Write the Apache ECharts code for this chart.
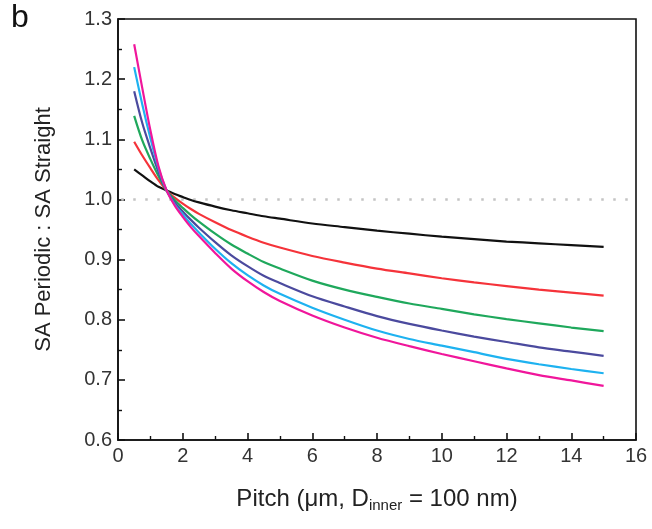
<!DOCTYPE html>
<html>
<head>
<meta charset="utf-8">
<script src="https://cdn.jsdelivr.net/npm/echarts@6/dist/echarts.min.js"></script>
<style>html,body{margin:0;padding:0;background:#fff}#c{width:652px;height:529px}</style>
</head>
<body>
<div id="c"></div>
<script>
const pitch = [0.5, 0.75, 1, 1.25, 1.5, 1.75, 2, 2.25, 2.5, 3, 3.5, 4, 4.5, 5, 6, 7, 8, 9, 10, 11, 12, 13, 14, 15];
const black = [1.050, 1.040, 1.030, 1.021, 1.015, 1.009, 1.004, 0.999, 0.995, 0.988, 0.982, 0.977, 0.972, 0.968, 0.960, 0.954, 0.948, 0.943, 0.938, 0.934, 0.930, 0.927, 0.924, 0.921];
const red = [1.096, 1.073, 1.052, 1.032, 1.015, 1.003, 0.993, 0.984, 0.976, 0.962, 0.949, 0.938, 0.928, 0.920, 0.906, 0.895, 0.885, 0.877, 0.869, 0.862, 0.856, 0.850, 0.845, 0.840];
const green = [1.139, 1.098, 1.067, 1.039, 1.015, 0.999, 0.986, 0.974, 0.963, 0.943, 0.925, 0.910, 0.896, 0.885, 0.865, 0.850, 0.838, 0.827, 0.818, 0.809, 0.801, 0.794, 0.787, 0.781];
const purple = [1.180, 1.127, 1.085, 1.046, 1.015, 0.995, 0.980, 0.966, 0.953, 0.929, 0.907, 0.889, 0.873, 0.861, 0.839, 0.822, 0.806, 0.793, 0.782, 0.772, 0.763, 0.754, 0.747, 0.740];
const cyan = [1.220, 1.158, 1.102, 1.052, 1.015, 0.992, 0.975, 0.959, 0.945, 0.918, 0.894, 0.874, 0.857, 0.843, 0.820, 0.800, 0.782, 0.768, 0.757, 0.746, 0.735, 0.726, 0.718, 0.711];
const magenta = [1.258, 1.185, 1.115, 1.055, 1.015, 0.990, 0.971, 0.954, 0.939, 0.911, 0.885, 0.864, 0.846, 0.831, 0.807, 0.787, 0.770, 0.756, 0.743, 0.731, 0.719, 0.708, 0.699, 0.690];
const xTicks = [0, 2, 4, 6, 8, 10, 12, 14, 16];
const yTicks = [0.6, 0.7, 0.8, 0.9, 1.0, 1.1, 1.2, 1.3];
const refValue = 1.0;

const seriesDefs = [
  {name: 'black', data: black, color: '#111111'},
  {name: 'red', data: red, color: '#f5333a'},
  {name: 'green', data: green, color: '#1fa85c'},
  {name: 'purple', data: purple, color: '#4b4a9e'},
  {name: 'cyan', data: cyan, color: '#1eb2f0'},
  {name: 'magenta', data: magenta, color: '#f0169b'}
];

const chart = echarts.init(document.getElementById('c'), null, {renderer: 'canvas'});
const font = 'Liberation Sans, Arial, sans-serif';
const series = seriesDefs.map((s, i) => ({
  name: s.name,
  type: 'line',
  smooth: 0.3,
  showSymbol: false,
  data: pitch.map((p, k) => [p, s.data[k]]),
  lineStyle: {color: s.color, width: 2.2},
  itemStyle: {color: s.color},
  z: 3 + i,
  markLine: i === 0 ? {
    silent: true, symbol: 'none', label: {show: false},
    lineStyle: {color: '#c4c4c4', type: [2.5, 9.5], width: 2.5},
    data: [[{coord: [xTicks[0] + 0.1, refValue]}, {coord: [xTicks[xTicks.length - 1] - 0.15, refValue]}]],
    z: 1
  } : undefined
}));

chart.setOption({
  animation: false,
  backgroundColor: '#fff',
  graphic: [{type: 'text', left: 11, top: 2, style: {text: 'b', font: '32px ' + font, fill: '#111'}}],
  grid: {left: 118, right: 16, top: 19, bottom: 89, show: true, borderColor: '#111', borderWidth: 1.6, backgroundColor: 'transparent'},
  xAxis: {
    type: 'value', min: xTicks[0], max: xTicks[xTicks.length - 1], interval: 2,
    axisLine: {show: true, lineStyle: {color: '#111', width: 1.6}},
    axisTick: {show: true, inside: true, length: 7, lineStyle: {color: '#111', width: 1.6}},
    minorTick: {show: true, splitNumber: 2, length: 4, lineStyle: {color: '#111', width: 1.4}},
    splitLine: {show: false},
    axisLabel: {color: '#333', fontSize: 20, fontFamily: font, margin: 6},
    name: '{a|Pitch (μm, D}{s|inner}{a| = 100 nm)}',
    nameLocation: 'middle', nameGap: 46,
    nameTextStyle: {rich: {
      a: {fontSize: 24, fontFamily: font, color: '#222'},
      s: {fontSize: 15, fontFamily: font, color: '#222', verticalAlign: 'bottom', padding: [12, 0, 0, 0]}
    }}
  },
  yAxis: {
    type: 'value', min: yTicks[0], max: yTicks[yTicks.length - 1], interval: 0.1,
    axisLine: {show: true, lineStyle: {color: '#111', width: 1.6}},
    axisTick: {show: true, inside: true, length: 7, lineStyle: {color: '#111', width: 1.6}},
    minorTick: {show: true, splitNumber: 2, length: 4, lineStyle: {color: '#111', width: 1.4}},
    splitLine: {show: false},
    axisLabel: {color: '#333', fontSize: 20, fontFamily: font, margin: 6, formatter: v => v.toFixed(1)},
    name: 'SA Periodic : SA Straight',
    nameLocation: 'middle', nameGap: 63,
    nameTextStyle: {fontSize: 22, fontFamily: font, color: '#222'}
  },
  series: series
});
</script>
</body>
</html>
